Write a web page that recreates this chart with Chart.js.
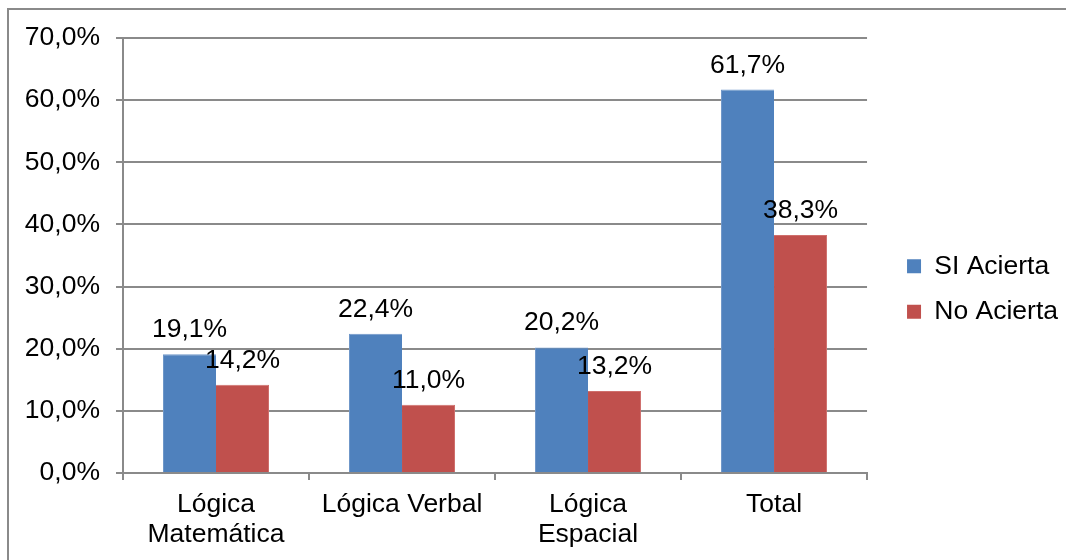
<!DOCTYPE html>
<html>
<head>
<meta charset="utf-8">
<script src="https://cdn.jsdelivr.net/npm/chart.js@4/dist/chart.umd.min.js"></script>
<style>
  html, body { margin: 0; padding: 0; background: #fff; overflow: hidden; }
  #wrap { position: relative; width: 1066px; height: 560px; }
  #frame {
    position: absolute; left: 7px; top: 8px; width: 1200px; height: 700px;
    border-top: 2px solid #8a8a8a; border-left: 2px solid #8a8a8a;
    pointer-events: none;
  }
  canvas { position: absolute; left: 0; top: 0; }
</style>
</head>
<body>
<div id="wrap">
  <canvas id="chart" width="1066" height="560"></canvas>
  <div id="frame"></div>
</div>
<script>
// Categories and series (percent of answers)
const categories = [['Lógica', 'Matemática'], 'Lógica Verbal', ['Lógica', 'Espacial'], 'Total'];
const siAcierta = [19.1, 22.4, 20.2, 61.7];
const noAcierta = [14.2, 11.0, 13.2, 38.3];
const seriesNames = ['SI Acierta', 'No Acierta'];
const yTicks = [0, 10, 20, 30, 40, 50, 60, 70];

const FONT = "'Liberation Sans', Arial, sans-serif";
const FS = 26.5;
const fmtPct = v => v.toFixed(1).replace('.', ',') + '%';

// Value labels above each bar
const valueLabels = {
  id: 'valueLabels',
  afterDatasetsDraw(chart) {
    const ctx = chart.ctx;
    ctx.save();
    ctx.font = FS + 'px ' + FONT;
    ctx.fillStyle = '#000';
    ctx.textAlign = 'center';
    ctx.textBaseline = 'alphabetic';
    chart.data.datasets.forEach((ds, i) => {
      chart.getDatasetMeta(i).data.forEach((bar, j) => {
        ctx.fillText(fmtPct(ds.data[j]), bar.x, bar.y - 17);
      });
    });
    ctx.restore();
  }
};

// Nudge the legend block right of the plot and centre it on the plot rows
const legendOffset = {
  id: 'legendOffset',
  afterLayout(chart) {
    const lg = chart.legend;
    if (lg) {
      lg.left += 21; lg.right += 21;
      lg.top -= 10; lg.bottom -= 10;
    }
  }
};

new Chart(document.getElementById('chart'), {
  type: 'bar',
  data: {
    labels: categories,
    datasets: [
      { label: seriesNames[0], data: siAcierta, backgroundColor: '#4F81BD', borderColor: '#6f97c9', borderWidth: { top: 1, left: 1, right: 0, bottom: 0 } },
      { label: seriesNames[1], data: noAcierta, backgroundColor: '#C0504D', borderColor: '#cf6f6c', borderWidth: { top: 1, left: 0, right: 1, bottom: 0 } }
    ]
  },
  options: {
    responsive: false,
    animation: false,
    devicePixelRatio: 1,
    categoryPercentage: 0.57,
    barPercentage: 1.0,
    layout: { padding: { top: 38, bottom: 0, left: 0, right: 19 } },
    plugins: {
      tooltip: { enabled: false },
      legend: {
        position: 'right',
        align: 'center',
        labels: {
          font: { family: FONT, size: FS },
          color: '#000',
          boxWidth: 14,
          boxHeight: 14,
          padding: 19,
          generateLabels(chart) {
            return chart.data.datasets.map((ds, i) => ({
              text: ds.label, fillStyle: ds.backgroundColor, strokeStyle: ds.backgroundColor,
              lineWidth: 0, hidden: false, datasetIndex: i, fontColor: '#000'
            }));
          }
        }
      }
    },
    scales: {
      x: {
        grid: { display: true, drawOnChartArea: false, drawTicks: true, tickLength: 7, color: '#8a8a8a', lineWidth: 2, offset: true },
        border: { display: true, color: '#8a8a8a', width: 2 },
        ticks: { font: { family: FONT, size: FS, lineHeight: 1.13 }, color: '#000', maxRotation: 0, autoSkip: false, padding: 10 },
        afterFit(scale) { scale.height = 87; }
      },
      y: {
        min: 0,
        max: 70,
        afterBuildTicks(scale) { scale.ticks = yTicks.map(v => ({ value: v })); },
        grid: { color: '#8a8a8a', lineWidth: 2, tickLength: 7 },
        border: { display: true, color: '#8a8a8a', width: 2 },
        ticks: { font: { family: FONT, size: FS }, color: '#000', padding: 16, callback: v => fmtPct(v) },
        afterFit(scale) { scale.width = 123; }
      }
    }
  },
  plugins: [valueLabels, legendOffset]
});
</script>
</body>
</html>
